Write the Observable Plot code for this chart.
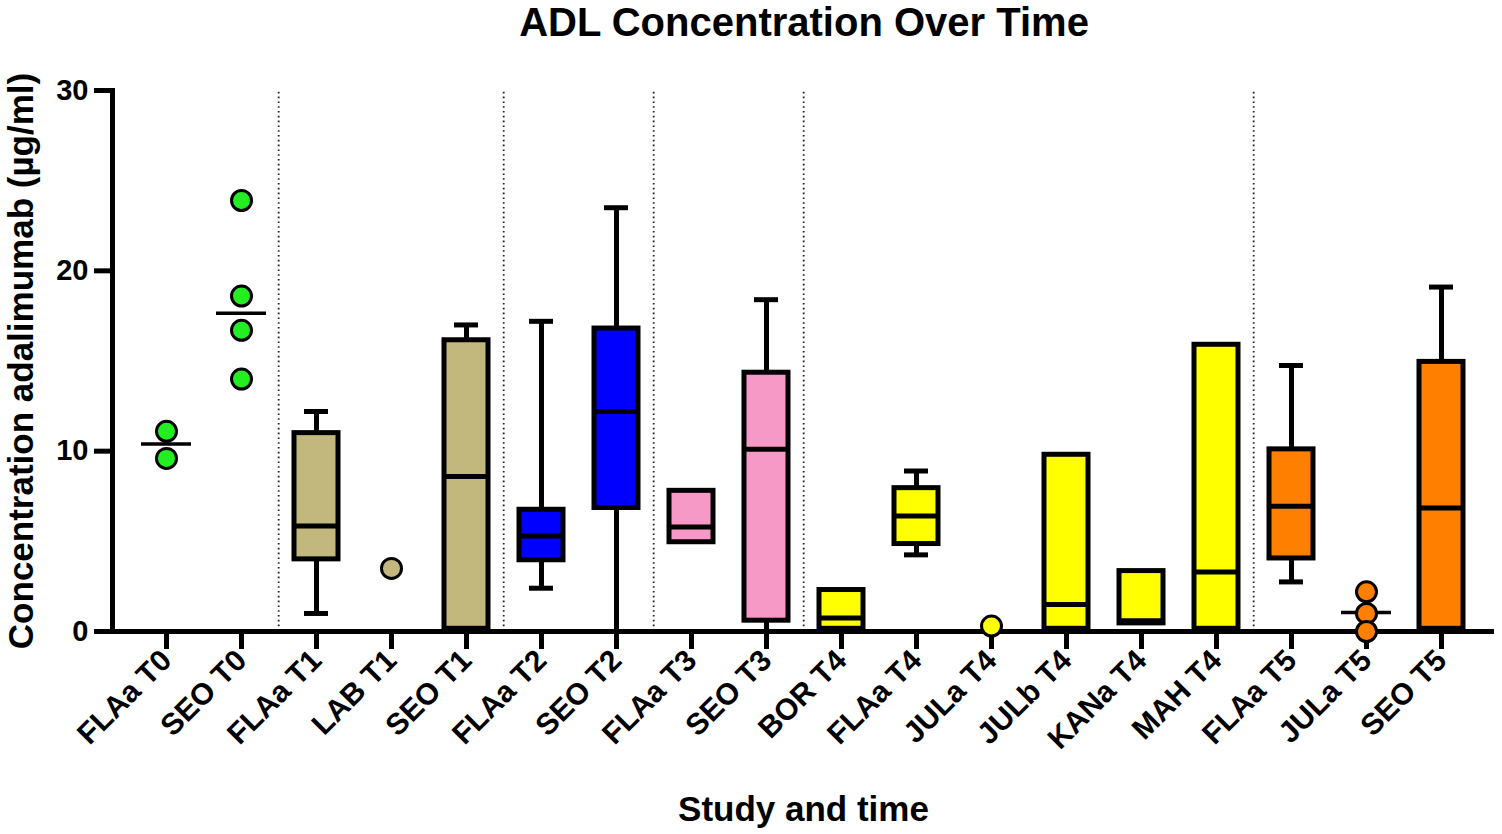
<!DOCTYPE html>
<html>
<head>
<meta charset="utf-8">
<script src="https://cdn.jsdelivr.net/npm/d3@7"></script>
<script src="https://cdn.jsdelivr.net/npm/@observablehq/plot@0.6"></script>
<style>
  html, body { margin: 0; padding: 0; background: #fff; }
  #title { width: 1502px; box-sizing: border-box; padding-left: 106px; height: 46px; line-height: 46px;
    text-align: center; font: bold 40px "Liberation Sans", Arial, sans-serif; color: #000; }
</style>
</head>
<body>
<div id="title">ADL Concentration Over Time</div>
<div id="chart"></div>
<script>
// ---- Data ----
const categories = ["FLAa T0","SEO T0","FLAa T1","LAB T1","SEO T1","FLAa T2","SEO T2","FLAa T3","SEO T3",
  "BOR T4","FLAa T4","JULa T4","JULb T4","KANa T4","MAH T4","FLAa T5","JULa T5","SEO T5"];
const categoryColors = ["#22ee22","#22ee22","#c2b77c","#c2b77c","#c2b77c","#0000ff","#0000ff","#f799c6","#f799c6",
  "#ffff00","#ffff00","#ffff00","#ffff00","#ffff00","#ffff00","#ff7f00","#ff7f00","#ff7f00"];

// Box plots: min, Q1, median, Q3, max
const boxCategories = ["FLAa T1","SEO T1","FLAa T2","SEO T2","FLAa T3","SEO T3","BOR T4","FLAa T4","JULb T4","KANa T4","MAH T4","FLAa T5","SEO T5"];
const boxMin    = [1.0,  0.0,  2.4,  0.0,  4.95, 0.0,  0.15, 4.25, 0.15, 0.45, 0.15, 2.75, 0.0];
const boxQ1     = [4.0,  0.15, 3.95, 6.85, 4.95, 0.6,  0.15, 4.85, 0.15, 0.45, 0.15, 4.05, 0.15];
const boxMedian = [5.85, 8.6,  5.3,  12.2, 5.8,  10.1, 0.75, 6.4,  1.5,  0.6,  3.3,  6.95, 6.85];
const boxQ3     = [11.0, 16.15,6.75, 16.8, 7.8,  14.35,2.3,  7.95, 9.8,  3.35, 15.9, 10.1, 14.95];
const boxMax    = [12.2, 17.0, 17.2, 23.5, 7.8,  18.4, 2.3,  8.9,  9.8,  3.35, 15.9, 14.75,19.1];

// Individual points
const pointCategory = ["FLAa T0","FLAa T0","SEO T0","SEO T0","SEO T0","SEO T0","LAB T1","JULa T4","JULa T5","JULa T5","JULa T5"];
const pointValue    = [11.1, 9.6, 23.9, 18.6, 16.7, 14.0, 3.5, 0.3, 2.2, 1.0, 0.0];

// Median lines for point groups
const medianCategory = ["FLAa T0","SEO T0","JULa T5"];
const medianValue    = [10.4, 17.65, 1.05];

// Dotted separators (drawn before these categories)
const separatorBefore = ["FLAa T1","FLAa T2","FLAa T3","BOR T4","FLAa T5"];

const yTicks = [0, 10, 20, 30];
const yLabel = "Concentration adalimumab (µg/ml)";
const xLabel = "Study and time";

// ---- Build tables ----
const colorOf = new Map(categories.map((c, i) => [c, categoryColors[i]]));
const boxes = boxCategories.map((c, i) => ({cat: c, min: boxMin[i], q1: boxQ1[i], med: boxMedian[i], q3: boxQ3[i], max: boxMax[i]}));
const lowCaps = boxes.filter(b => b.min < b.q1 && b.min > 0);
const highCaps = boxes.filter(b => b.max > b.q3);
const points = pointCategory.map((c, i) => ({cat: c, v: pointValue[i]}));
const medians = medianCategory.map((c, i) => ({cat: c, v: medianValue[i]}));

const W = 1502, H = 788;
const mL = 112, mR = 8, mT = 44, mB = 203;
const step = (W - mL - mR) / (categories.length - 0.42 + 2 * 0.345);

const chart = Plot.plot({
  width: W, height: H,
  marginLeft: mL, marginRight: mR, marginTop: mT, marginBottom: mB,
  style: {fontFamily: "'Liberation Sans', Arial, sans-serif", color: "#000", background: "#fff"},
  x: {type: "band", domain: categories, paddingInner: 0.42, paddingOuter: 0.345, label: null},
  y: {domain: [0, 30], label: null},
  marks: [
    Plot.ruleX(separatorBefore, {x: d => d, y1: 0, y2: 30, dx: -step / 2, stroke: "#222", strokeWidth: 1.8, strokeDasharray: "1.6 3.2"}),
    Plot.ruleX(boxes, {x: "cat", y1: "min", y2: "max", stroke: "#000", strokeWidth: 5}),
    Plot.tickY(lowCaps, {x: "cat", y: "min", stroke: "#000", strokeWidth: 5, inset: 10}),
    Plot.tickY(highCaps, {x: "cat", y: "max", stroke: "#000", strokeWidth: 5, inset: 10}),
    Plot.barY(boxes, {x: "cat", y1: "q1", y2: "q3", fill: d => colorOf.get(d.cat), stroke: "#000", strokeWidth: 5}),
    Plot.tickY(boxes, {x: "cat", y: "med", stroke: "#000", strokeWidth: 5}),
    Plot.axisY({ticks: yTicks, tickSize: 18, tickPadding: 6, strokeWidth: 5, fontSize: 29, fontWeight: "bold", label: null}),
    Plot.axisX({tickRotate: -45, tickSize: 18, tickPadding: 6, strokeWidth: 5, fontSize: 30, fontWeight: "bold", label: null}),
    Plot.frame({anchor: "left", stroke: "#000", strokeWidth: 5}),
    Plot.ruleY([0], {stroke: "#000", strokeWidth: 5}),
    Plot.tickY(medians, {x: "cat", y: "v", stroke: "#000", strokeWidth: 3.5, inset: -3}),
    Plot.dot(points, {x: "cat", y: "v", r: 10, fill: d => colorOf.get(d.cat), stroke: "#000", strokeWidth: 3}),
    Plot.text([yLabel], {text: d => d, frameAnchor: "left", textAnchor: "middle", rotate: -90, dx: -91, fontSize: 35, fontWeight: "bold", fill: "#000"}),
    Plot.text([xLabel], {text: d => d, frameAnchor: "bottom", dy: 189, fontSize: 35, fontWeight: "bold", fill: "#000"})
  ]
});
document.getElementById("chart").appendChild(chart);
</script>
</body>
</html>
